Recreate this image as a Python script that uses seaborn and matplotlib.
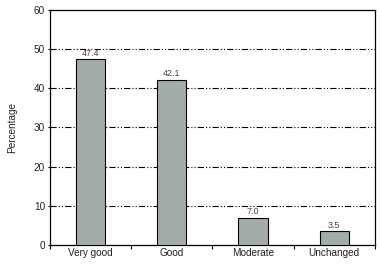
import matplotlib
matplotlib.use("Agg")
import matplotlib.pyplot as plt
import seaborn as sns
import pandas as pd

categories = ["Very good", "Good", "Moderate", "Unchanged"]
values = [47.4, 42.1, 7.0, 3.5]
value_labels = ["47.4", "42.1", "7.0", "3.5"]
yticks = [0, 10, 20, 30, 40, 50, 60]

sns.set_style("white")
plt.rcParams['font.family'] = ['Liberation Sans', 'DejaVu Sans']
plt.rcParams['lines.scale_dashes'] = False

df = pd.DataFrame({"cat": categories, "val": values})

fig = plt.figure(figsize=(3.81, 2.65), dpi=100)
ax = fig.add_axes([0.131, 0.0755, 0.853, 0.887])

sns.barplot(data=df, x="cat", y="val", color="#a4aca8", edgecolor="black",
            linewidth=0.8, width=0.36, saturation=1, ax=ax, zorder=3)

ax.set_ylim(0, 60)
ax.set_xlim(-0.5, 3.5)
ax.set_yticks(yticks)
ax.set_yticklabels([str(t) for t in yticks], fontsize=7.2, color="#222222")
for t in yticks[1:-1]:
    ax.axhline(t, color="black", linewidth=0.8, linestyle=(0, (4.5, 1.5, 0.8, 1.5, 0.8, 1.5)), zorder=1)

ax.set_xticks(range(len(categories)))
ax.set_xticklabels(categories, fontsize=7.2, color="#222222")
ax.set_xticks([-0.5, 0.5, 1.5, 2.5, 3.5], minor=True)
ax.tick_params(axis="x", which="major", length=0, pad=2.5)
ax.tick_params(axis="x", which="minor", length=3, width=0.8, direction="out", color="black", bottom=True)
ax.tick_params(axis="y", length=3, width=0.8, direction="inout", color="black", left=True, pad=2)

for i, (v, lab) in enumerate(zip(values, value_labels)):
    ax.text(i, v + 0.4, lab, ha="center", va="bottom", fontsize=6.5, color="#444444")

ax.set_xlabel("")
ax.set_ylabel("Percentage", fontsize=7.2, color="#222222", labelpad=12)

for s in ax.spines.values():
    s.set_color("black")
    s.set_linewidth(0.9)
    s.set_visible(True)

fig.savefig("out.png", dpi=100)
